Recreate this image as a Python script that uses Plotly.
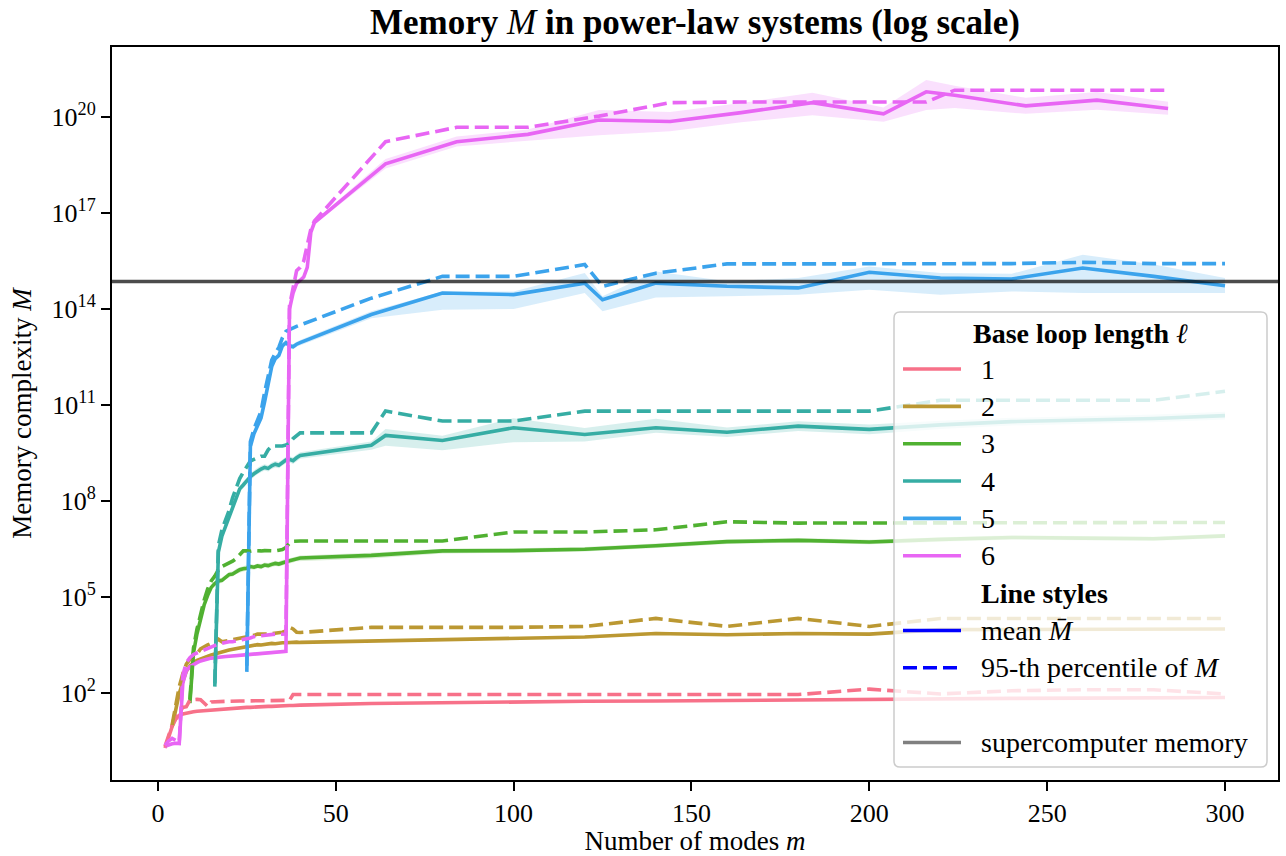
import plotly.graph_objects as go

# ---------------- data (values are log10 of memory complexity M) ----------------
loop_lengths = [1, 2, 3, 4, 5, 6]
colors = ["#f77189", "#bb9832", "#50b131", "#36ada4", "#3ba3ec", "#e866f4"]
supercomputer_log10 = 14.86
x_ticks = [0, 50, 100, 150, 200, 250, 300]
y_tick_exps = [2, 5, 8, 11, 14, 17, 20]

# l = 1
m_l1 = list(range(2, 41)) + [60, 80, 100, 120, 140, 160, 180, 200, 220, 240, 260, 280, 300]
mean_l1 = [0.28, 0.62, 0.95, 1.18, 1.30, 1.34, 1.37, 1.40, 1.41, 1.43, 1.44, 1.45, 1.46, 1.47, 1.48,
           1.48, 1.49, 1.50, 1.51, 1.52, 1.52, 1.53, 1.54, 1.55, 1.55, 1.56, 1.56, 1.57, 1.57, 1.58,
           1.58, 1.59, 1.59, 1.60, 1.60, 1.61, 1.61, 1.62, 1.62,
           1.67, 1.70, 1.72, 1.74, 1.75, 1.77, 1.78, 1.80, 1.81, 1.83, 1.84, 1.85, 1.86]
p95_l1 = [0.33, 0.66, 0.98, 1.22, 1.36, 1.55, 1.57, 1.78, 1.80, 1.80, 1.79, 1.68, 1.58, 1.72, 1.73,
          1.73, 1.74, 1.74, 1.74, 1.75, 1.75, 1.75, 1.75, 1.75, 1.75, 1.76, 1.75, 1.76, 1.76, 1.76,
          1.76, 1.76, 1.76, 1.76, 1.77, 1.77, 1.95, 1.95, 1.95,
          1.95, 1.95, 1.95, 1.95, 1.95, 1.95, 1.95, 2.12, 1.97, 2.07, 2.10, 2.10, 1.97]
ci_lo_l1 = [0.03, 0.03, 0.03, 0.03, 0.03, 0.03, 0.03, 0.03, 0.03, 0.03, 0.03, 0.03, 0.03]
ci_hi_l1 = [0.03, 0.03, 0.03, 0.03, 0.03, 0.03, 0.03, 0.03, 0.03, 0.03, 0.03, 0.03, 0.03]

# l = 2
m_l2 = list(range(4, 41)) + [60, 80, 100, 120, 140, 160, 180, 200, 220, 240, 260, 280, 300]
mean_l2 = [0.95, 1.45, 1.98, 2.35, 2.68, 2.85, 2.96, 3.02, 3.07, 3.12, 3.16, 3.19, 3.22, 3.26, 3.28,
           3.31, 3.34, 3.36, 3.39, 3.41, 3.44, 3.46, 3.47, 3.49, 3.51, 3.50, 3.52, 3.54, 3.55, 3.54,
           3.56, 3.57, 3.57, 3.58, 3.57, 3.59, 3.58,
           3.62, 3.68, 3.71, 3.75, 3.86, 3.82, 3.86, 3.84, 3.98, 3.99, 4.00, 4.00, 4.00]
p95_l2 = [1.00, 1.60, 2.20, 2.60, 2.90, 3.05, 3.15, 3.22, 3.38, 3.45, 3.50, 3.55, 3.60, 3.68, 3.60,
          3.62, 3.65, 3.67, 3.70, 3.72, 3.74, 3.76, 3.78, 3.80, 3.84, 3.83, 3.84, 3.84, 3.85, 3.86,
          3.88, 3.90, 3.94, 4.05, 4.00, 3.90, 3.89,
          4.05, 4.05, 4.05, 4.08, 4.33, 4.08, 4.33, 4.08, 4.33, 4.33, 4.33, 4.33, 4.33]
ci_lo_l2 = [0.04, 0.04, 0.04, 0.04, 0.05, 0.04, 0.04, 0.04, 0.04, 0.04, 0.04, 0.04, 0.04]
ci_hi_l2 = [0.04, 0.04, 0.04, 0.04, 0.05, 0.04, 0.04, 0.04, 0.04, 0.04, 0.04, 0.04, 0.04]

# l = 3
m_l3 = list(range(9, 41)) + [60, 80, 100, 120, 140, 160, 180, 200, 220, 240, 260, 280, 300]
mean_l3 = [1.68, 3.25, 3.85, 4.35, 4.75, 5.05, 5.30, 5.42, 5.50, 5.52, 5.62, 5.70, 5.72, 5.80, 5.85,
           5.88, 5.90, 5.95, 5.93, 5.97, 5.95, 6.00, 5.98, 6.02, 6.05, 6.03, 6.08, 6.10, 6.13, 6.16,
           6.20, 6.22,
           6.30, 6.44, 6.45, 6.49, 6.60, 6.73, 6.77, 6.72, 6.80, 6.86, 6.84, 6.82, 6.91]
p95_l3 = [1.80, 3.40, 4.00, 4.50, 4.90, 5.25, 5.50, 5.65, 5.85, 5.95, 6.00, 6.05, 6.12, 6.20, 6.32,
          6.44, 6.44, 6.43, 6.45, 6.44, 6.44, 6.45, 6.44, 6.45, 6.44, 6.46, 6.48, 6.55, 6.68, 6.74,
          6.75, 6.75,
          6.75, 6.75, 7.03, 7.03, 7.10, 7.35, 7.31, 7.31, 7.33, 7.33, 7.33, 7.33, 7.33]
ci_lo_l3 = [0.10, 0.08, 0.07, 0.07, 0.07, 0.07, 0.07, 0.07, 0.07, 0.07, 0.07, 0.07, 0.07]
ci_hi_l3 = [0.08, 0.07, 0.07, 0.07, 0.07, 0.07, 0.07, 0.07, 0.07, 0.07, 0.07, 0.07, 0.07]

# l = 4
m_l4 = list(range(16, 41)) + [60, 64, 80, 100, 120, 140, 160, 180, 200, 220, 240, 260, 280, 300]
mean_l4 = [2.20, 6.40, 6.90, 7.20, 7.50, 7.85, 8.15, 8.38, 8.50, 8.65, 8.76, 8.85, 8.94, 9.00, 9.05,
           9.02, 9.10, 9.15, 9.12, 9.20, 9.28, 9.30, 9.26, 9.35, 9.42,
           9.74, 10.05, 9.89, 10.29, 10.08, 10.29, 10.15, 10.34, 10.24, 10.38, 10.48, 10.52, 10.58, 10.67]
p95_l4 = [2.30, 6.60, 7.10, 7.40, 7.70, 8.10, 8.40, 8.70, 8.90, 9.10, 9.25, 9.30, 9.35, 9.40, 9.40,
          9.60, 9.72, 9.72, 9.72, 9.72, 9.75, 9.80, 9.95, 10.05, 10.13,
          10.13, 10.81, 10.50, 10.50, 10.81, 10.81, 10.81, 10.81, 10.81, 11.15, 11.15, 11.15, 11.15, 11.43]
ci_lo_l4 = [0.14, 0.32, 0.30, 0.45, 0.22, 0.16, 0.15, 0.15, 0.15, 0.13, 0.12, 0.12, 0.12, 0.12]
ci_hi_l4 = [0.12, 0.20, 0.15, 0.30, 0.20, 0.28, 0.15, 0.15, 0.15, 0.13, 0.12, 0.12, 0.12, 0.12]

# l = 5
m_l5 = list(range(25, 41)) + [60, 80, 100, 120, 125, 140, 160, 180, 200, 220, 240, 260, 280, 300]
mean_l5 = [2.66, 9.70, 10.10, 10.32, 10.60, 11.10, 11.70, 12.20, 12.45, 12.55, 12.85, 12.95, 12.85,
           12.82, 12.90, 12.95,
           13.83, 14.50, 14.45, 14.81, 14.29, 14.81, 14.71, 14.66, 15.15, 14.97, 14.94, 15.28, 15.02, 14.73]
p95_l5 = [2.85, 9.85, 10.25, 10.50, 10.80, 11.40, 11.90, 12.40, 12.62, 12.80, 13.10, 13.30, 13.36,
          13.42, 13.46, 13.50,
          14.34, 15.02, 15.02, 15.39, 14.71, 15.12, 15.41, 15.41, 15.41, 15.42, 15.42, 15.46, 15.42, 15.42]
ci_lo_l5 = [0.12, 0.52, 0.45, 0.31, 0.36, 0.45, 0.31, 0.21, 0.55, 0.52, 0.39, 0.78, 0.52, 0.23]
ci_hi_l5 = [0.10, 0.05, 0.10, 0.32, 0.11, 0.36, 0.16, 0.31, 0.18, 0.16, 0.16, 0.42, 0.37, 0.24]

# l = 6
m_l6 = list(range(2, 45)) + [64, 84, 104, 124, 144, 164, 184, 204, 216, 224, 244, 264, 284]
mean_l6 = [0.33, 0.38, 0.41, 0.43, 0.42, 2.30, 2.70, 2.82, 2.90, 2.95, 3.00, 3.04, 3.07, 3.09, 3.10,
           3.12, 3.14, 3.14, 3.15, 3.16, 3.16, 3.18, 3.19, 3.20, 3.21, 3.22, 3.23, 3.24, 3.25, 3.26,
           3.27, 3.27, 3.28, 3.29, 3.30, 14.00, 14.50, 14.80, 14.90, 15.00, 15.30, 16.40, 16.70,
           18.54, 19.23, 19.46, 19.91, 19.86, 20.14, 20.45, 20.10, 20.79, 20.68, 20.35, 20.53, 20.27]
p95_l6 = [0.36, 0.50, 0.58, 0.52, 0.46, 2.55, 2.95, 3.10, 3.20, 3.25, 3.30, 3.33, 3.38, 3.45, 3.50,
          3.53, 3.55, 3.58, 3.60, 3.60, 3.62, 3.65, 3.68, 3.70, 3.72, 3.76, 3.79, 3.79, 3.80, 3.82,
          3.84, 3.84, 3.83, 3.84, 3.84, 14.10, 14.70, 15.20, 15.30, 15.50, 16.00, 16.50, 16.75,
          19.23, 19.68, 19.68, 20.03, 20.45, 20.47, 20.47, 20.47, 20.47, 20.84, 20.84, 20.84, 20.84]
ci_lo_l6 = [0.15, 0.15, 0.20, 0.48, 0.30, 0.30, 0.39, 0.25, 0.57, 0.40, 0.25, 0.30, 0.20]
ci_hi_l6 = [0.15, 0.16, 0.15, 0.31, 0.30, 0.30, 0.31, 0.20, 0.37, 0.30, 0.25, 0.25, 0.21]

# confidence half-width (decades) in the dense early part of every curve
ci_dense = [0.03, 0.04, 0.08, 0.10, 0.08, 0.05]

series = [
    (m_l1, mean_l1, p95_l1, ci_lo_l1, ci_hi_l1),
    (m_l2, mean_l2, p95_l2, ci_lo_l2, ci_hi_l2),
    (m_l3, mean_l3, p95_l3, ci_lo_l3, ci_hi_l3),
    (m_l4, mean_l4, p95_l4, ci_lo_l4, ci_hi_l4),
    (m_l5, mean_l5, p95_l5, ci_lo_l5, ci_hi_l5),
    (m_l6, mean_l6, p95_l6, ci_lo_l6, ci_hi_l6),
]

# ---------------- figure ----------------
FONT = "Liberation Serif"
LW = 3.6
DASH = "14px,6px"
PLOT_L, PLOT_R, PLOT_T, PLOT_B = 112, 1278, 47, 780


def rgba(hex_color, a):
    h = hex_color.lstrip("#")
    return "rgba(%d,%d,%d,%.2f)" % (int(h[0:2], 16), int(h[2:4], 16), int(h[4:6], 16), a)


def px(x):
    return (x - PLOT_L) / (PLOT_R - PLOT_L)


def py(y):
    return (PLOT_B - y) / (PLOT_B - PLOT_T)


fig = go.Figure()

for (m, mean, p95, lo_s, hi_s), c, dense_w in zip(series, colors, ci_dense):
    n_dense = len(m) - len(lo_s)
    lo = [dense_w] * n_dense + lo_s
    hi = [dense_w] * n_dense + hi_s
    y_lo = [10.0 ** (v - d) for v, d in zip(mean, lo)]
    y_hi = [10.0 ** (v + d) for v, d in zip(mean, hi)]
    fig.add_trace(go.Scatter(x=m + m[::-1], y=y_hi + y_lo[::-1], fill="toself",
                             fillcolor=rgba(c, 0.2), line=dict(width=0), mode="lines",
                             hoverinfo="skip", showlegend=False))
    fig.add_trace(go.Scatter(x=m, y=[10.0 ** v for v in mean], mode="lines",
                             line=dict(color=c, width=LW), showlegend=False))

for (m, mean, p95, lo_s, hi_s), c in zip(series, colors):
    fig.add_trace(go.Scatter(x=m, y=[10.0 ** v for v in p95], mode="lines",
                             line=dict(color=c, width=LW, dash=DASH), showlegend=False))

fig.add_hline(y=10.0 ** supercomputer_log10, line=dict(color="rgba(0,0,0,0.7)", width=3.5))

# ---------------- legend (drawn by hand, matplotlib style) ----------------
bx0, bx1, by0, by1, rad = 894, 1267, 312, 767, 6
box_path = ("M {a},{b} L {c},{b} Q {d},{b} {d},{e} L {d},{f} Q {d},{g} {c},{g} "
            "L {a},{g} Q {h},{g} {h},{f} L {h},{e} Q {h},{b} {a},{b} Z").format(
    a=px(bx0 + rad), b=py(by0), c=px(bx1 - rad), d=px(bx1), e=py(by0 + rad),
    f=py(by1 - rad), g=py(by1), h=px(bx0))
fig.add_shape(type="path", path=box_path, xref="paper", yref="paper", layer="above",
              fillcolor="rgba(255,255,255,0.8)", line=dict(color="#cccccc", width=1.5))

legend_rows = [(str(ell), c, "solid") for ell, c in zip(loop_lengths, colors)] + [
    ("<b>Line styles</b>", None, None),
    ("mean <i>M̄</i>", "#0000ff", "solid"),
    ("95-th percentile of <i>M</i>", "#0000ff", DASH),
    ("", None, None),
    ("supercomputer memory", "#808080", "solid"),
]
row_y0, row_step = 369, 37.35
for i, (label, c, dash) in enumerate(legend_rows):
    yc = row_y0 + i * row_step
    if c is not None:
        fig.add_shape(type="line", xref="paper", yref="paper", layer="above",
                      x0=px(903), x1=px(961), y0=py(yc), y1=py(yc),
                      line=dict(color=c, width=LW, dash=dash))
    if label:
        fig.add_annotation(text=label, xref="paper", yref="paper", x=px(979), y=py(yc),
                           xanchor="left", yanchor="middle", showarrow=False,
                           font=dict(family=FONT, size=28, color="black"))
fig.add_annotation(text="<b>Base loop length</b> <i>ℓ</i>", xref="paper", yref="paper",
                   x=px(1080), y=py(333), xanchor="center", yanchor="middle", showarrow=False,
                   font=dict(family=FONT, size=28, color="black"))

fig.update_layout(
    width=1286, height=856,
    margin=dict(l=PLOT_L, r=1286 - PLOT_R, t=PLOT_T, b=856 - PLOT_B, autoexpand=False),
    paper_bgcolor="white", plot_bgcolor="white",
    font=dict(family=FONT, size=27, color="black"),
    showlegend=False,
    title=dict(text="<b>Memory</b> <i>M</i> <b>in power-law systems (log scale)</b>",
               x=0.5, xref="paper", xanchor="center",
               y=1 - 22 / 856, yref="container", yanchor="middle",
               font=dict(family=FONT, size=35, color="black")),
    xaxis=dict(range=[-12.9, 314.9], tickvals=x_ticks, ticks="outside", ticklen=9, tickwidth=1.6,
               tickcolor="black", showline=True, linecolor="black", linewidth=2, mirror=True,
               showgrid=False, zeroline=False, tickfont=dict(family=FONT, size=26),
               title=dict(text="Number of modes <i>m</i>", standoff=12,
                          font=dict(family=FONT, size=27))),
    yaxis=dict(type="log", range=[-0.72, 22.19],
               tickvals=[10.0 ** e for e in y_tick_exps],
               ticktext=["10<sup>%d</sup>" % e for e in y_tick_exps],
               ticks="outside", ticklen=9, tickwidth=1.6, tickcolor="black",
               showline=True, linecolor="black", linewidth=2, mirror=True,
               showgrid=False, zeroline=False, tickfont=dict(family=FONT, size=26),
               title=dict(text="Memory complexity <i>M</i>", standoff=12,
                          font=dict(family=FONT, size=27))),
)

fig.write_html("out.html")
